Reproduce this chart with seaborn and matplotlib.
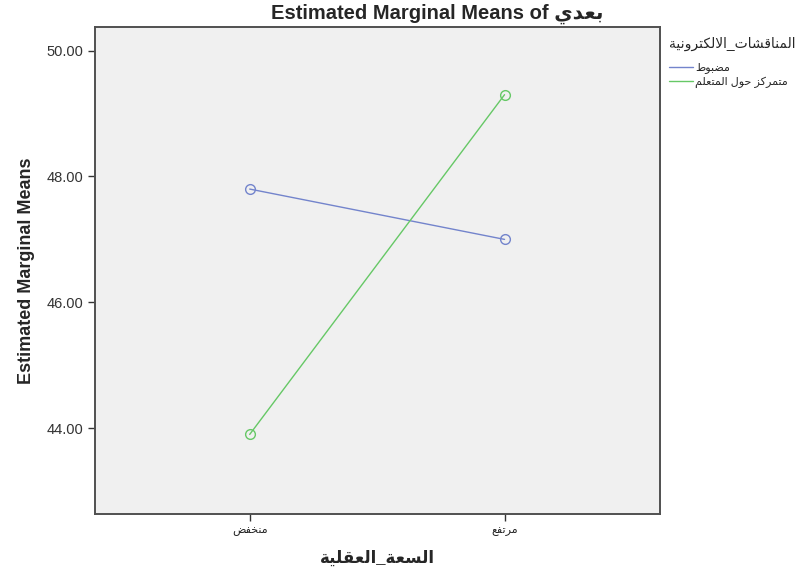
import numpy as np
import pandas as pd
import matplotlib
matplotlib.use("Agg")
import matplotlib.pyplot as plt
from matplotlib import font_manager
from matplotlib.lines import Line2D
import seaborn as sns

# ── Data ──────────────────────────────────────────────────────────────────────
levels      = ["منخفض", "مرتفع"]                      # السعة_العقلية
groups      = ["مضبوط", "متمركز حول المتعلم"]         # المناقشات_الالكترونية
means_ctrl  = [47.80, 47.00]
means_learn = [43.90, 49.30]
y_ticks     = [44.0, 46.0, 48.0, 50.0]

title_en    = "Estimated Marginal Means of "
title_ar    = "بعدي"
x_title     = "السعة_العقلية"
y_title     = "Estimated Marginal Means"
leg_title   = "المناقشات_الالكترونية"

colors = ["#7384cc", "#66c866"]

# ── Minimal Arabic shaping (matplotlib has no joining / RTL) ─────────────────
FORMS = {  # iso, fin, ini, med  (None = right-joining only)
    "ا": (0xFE8D, 0xFE8E, None, None), "ب": (0xFE8F, 0xFE90, 0xFE91, 0xFE92),
    "ة": (0xFE93, 0xFE94, None, None), "ت": (0xFE95, 0xFE96, 0xFE97, 0xFE98),
    "ح": (0xFEA1, 0xFEA2, 0xFEA3, 0xFEA4), "خ": (0xFEA5, 0xFEA6, 0xFEA7, 0xFEA8),
    "د": (0xFEA9, 0xFEAA, None, None), "ر": (0xFEAD, 0xFEAE, None, None),
    "ز": (0xFEAF, 0xFEB0, None, None), "س": (0xFEB1, 0xFEB2, 0xFEB3, 0xFEB4),
    "ش": (0xFEB5, 0xFEB6, 0xFEB7, 0xFEB8), "ض": (0xFEBD, 0xFEBE, 0xFEBF, 0xFEC0),
    "ط": (0xFEC1, 0xFEC2, 0xFEC3, 0xFEC4), "ع": (0xFEC9, 0xFECA, 0xFECB, 0xFECC),
    "ف": (0xFED1, 0xFED2, 0xFED3, 0xFED4), "ق": (0xFED5, 0xFED6, 0xFED7, 0xFED8),
    "ك": (0xFED9, 0xFEDA, 0xFEDB, 0xFEDC), "ل": (0xFEDD, 0xFEDE, 0xFEDF, 0xFEE0),
    "م": (0xFEE1, 0xFEE2, 0xFEE3, 0xFEE4), "ن": (0xFEE5, 0xFEE6, 0xFEE7, 0xFEE8),
    "و": (0xFEED, 0xFEEE, None, None), "ي": (0xFEF1, 0xFEF2, 0xFEF3, 0xFEF4),
}


def dual(c):
    return c in FORMS and FORMS[c][2] is not None


def shape(s):
    out, i = [], 0
    while i < len(s):
        c = s[i]
        if c not in FORMS:
            out.append(c)
            i += 1
            continue
        prev_joins = i > 0 and dual(s[i - 1])
        if c == "ل" and i + 1 < len(s) and s[i + 1] == "ا":
            out.append(chr(0xFEFC if prev_joins else 0xFEFB))
            i += 2
            continue
        next_joins = dual(c) and i + 1 < len(s) and s[i + 1] in FORMS
        iso, fin, ini, med = FORMS[c]
        if prev_joins and next_joins:
            g = med
        elif next_joins:
            g = ini
        elif prev_joins:
            g = fin
        else:
            g = iso
        out.append(chr(g))
        i += 1
    return "".join(out)[::-1]


# ── Fonts ─────────────────────────────────────────────────────────────────────
installed = {f.name for f in font_manager.fontManager.ttflist}
narrow = "Liberation Sans Narrow" if "Liberation Sans Narrow" in installed else "Liberation Sans"
FAM = ["Liberation Sans", "DejaVu Sans"]

sns.set_theme(style="white")
plt.rcParams["font.family"] = FAM

df = pd.DataFrame({
    "level": [shape(l) for l in levels] * 2,
    "mean":  means_ctrl + means_learn,
    "group": [groups[0]] * 2 + [groups[1]] * 2,
})

fig = plt.figure(figsize=(8.02, 5.77), dpi=100)
ax = fig.add_axes([95 / 802, 1 - 514 / 577, 565 / 802, 487 / 577])
ax.set_facecolor("#f0f0f0")

sns.lineplot(data=df, x="level", y="mean", hue="group", hue_order=groups,
             palette=colors, marker="o", markersize=7, linewidth=1.0,
             legend=False, ax=ax)
for ln, col in zip(ax.lines, colors):
    ln.set_markerfacecolor("none")
    ln.set_markeredgecolor(col)
    ln.set_markeredgewidth(1.0)

ax.set_xlim(-0.607, 1.61)
ax.set_ylim(42.635, 50.376)
ax.set_yticks(y_ticks)
ax.set_yticklabels([f"{v:.2f}" for v in y_ticks], fontsize=10.5, color="#333333")
for t in ax.get_xticklabels():
    t.set_fontsize(8)
    t.set_color("#222222")
ax.tick_params(axis="both", which="major", direction="out", length=5,
               width=1.0, color="#333333", left=True, bottom=True)

for sp in ax.spines.values():
    sp.set_visible(True)
    sp.set_color("#505050")
    sp.set_linewidth(1.4)

ax.set_xlabel(shape(x_title), fontsize=12, fontweight="bold", labelpad=10,
              family=FAM)
ax.set_ylabel(y_title, fontsize=13, fontweight="bold", labelpad=8,
              family=[narrow, "DejaVu Sans"])

fig.text(437 / 802, 1 - 14 / 577, title_en + shape(title_ar), ha="center",
         va="center", fontsize=14.5, fontweight="bold", family=FAM)

handles = [Line2D([0], [0], color=c, lw=1.0) for c in colors]
leg = ax.legend(handles, [shape(g) for g in groups], title=shape(leg_title),
                loc="upper left", bbox_to_anchor=(1.005, 0.993), frameon=False,
                fontsize=8, title_fontsize=10, handlelength=2.1, handletextpad=0.2,
                labelspacing=0.3, borderaxespad=0.2, alignment="left")
leg._legend_box.sep = 8

fig.savefig("out.png", dpi=100)
